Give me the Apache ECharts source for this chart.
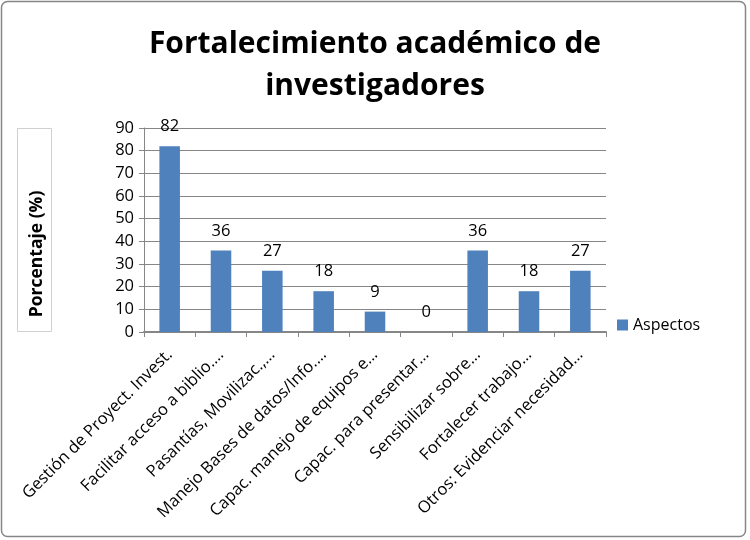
<!DOCTYPE html>
<html>
<head>
<meta charset="utf-8">
<script src="https://cdn.jsdelivr.net/npm/echarts@6/dist/echarts.min.js"></script>
<style>
  html, body { margin: 0; padding: 0; background: #fff; }
  #chart { width: 750px; height: 540px; }
</style>
</head>
<body>
<div id="chart"></div>
<script>
// datos
const categories = [
  'Gestión de Proyect. Invest.',
  'Facilitar acceso a biblio.…',
  'Pasantías, Movilizac.,…',
  'Manejo Bases de datos/Info.…',
  'Capac. manejo de equipos e…',
  'Capac. para presentar…',
  'Sensibilizar sobre…',
  'Fortalecer trabajo…',
  'Otros: Evidenciar necesidad…'
];
const aspectos = [82, 36, 27, 18, 9, 0, 36, 18, 27];
const seriesName = 'Aspectos';
const titleText = 'Fortalecimiento académico de\ninvestigadores';
const yName = 'Porcentaje (%)';

const fontFam = '"Open Sans", sans-serif';
const chart = echarts.init(document.getElementById('chart'));

const option = {
  animation: false,
  textStyle: { fontFamily: fontFam },
  title: {
    text: titleText,
    left: 'center',
    top: 18,
    textStyle: { fontSize: 30, fontWeight: 'bold', color: '#000', lineHeight: 42, fontFamily: fontFam }
  },
  legend: {
    data: [seriesName],
    left: 612,
    top: 312,
    itemWidth: 11,
    itemHeight: 11,
    icon: 'rect',
    textStyle: { fontSize: 16, color: '#000' }
  },
  grid: { left: 144, right: 144, top: 128, bottom: 208 },
  xAxis: {
    type: 'category',
    data: categories,
    axisLine: { lineStyle: { color: '#868686', width: 2 } },
    axisTick: { show: true, length: 5, lineStyle: { color: '#868686' } },
    axisLabel: { rotate: 45, fontSize: 16.5, color: '#000', margin: 20, interval: 0 }
  },
  yAxis: {
    type: 'value',
    min: 0,
    max: 90,
    interval: 10,
    axisLine: { show: true, lineStyle: { color: '#868686' } },
    axisTick: { show: true, length: 5, lineStyle: { color: '#868686' } },
    axisLabel: { fontSize: 16.5, color: '#000', margin: 10 },
    splitLine: { lineStyle: { color: '#868686', width: 1 } }
  },
  series: [{
    name: seriesName,
    type: 'bar',
    data: aspectos,
    barWidth: '40%',
    itemStyle: { color: '#4F81BD' },
    label: { show: true, position: 'top', fontSize: 16.5, color: '#000', distance: 11 }
  }],
  graphic: [
    {
      type: 'rect',
      shape: { x: 1.5, y: 1.5, width: 744, height: 535, r: 6 },
      style: { fill: 'none', stroke: '#868686', lineWidth: 1.5 },
      silent: true
    },
    {
      type: 'rect',
      shape: { x: 17.5, y: 128.5, width: 34, height: 203 },
      style: { fill: '#fff', stroke: '#d0d0d0', lineWidth: 1 },
      silent: true
    },
    {
      type: 'text',
      x: 37,
      y: 254,
      rotation: Math.PI / 2,
      style: {
        text: yName,
        fontSize: 17.5,
        fontWeight: 'bold',
        fontFamily: fontFam,
        fill: '#000',
        align: 'center',
        verticalAlign: 'middle'
      },
      silent: true
    }
  ]
};

chart.setOption(option);
</script>
</body>
</html>
